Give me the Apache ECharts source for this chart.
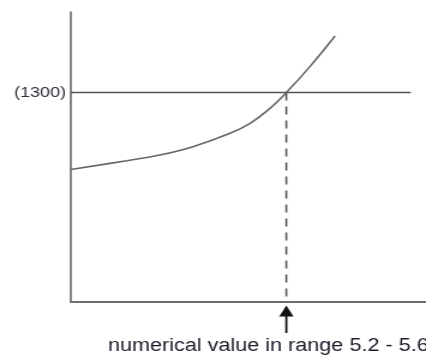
<!DOCTYPE html>
<html>
<head>
<meta charset="utf-8">
<script src="https://cdn.jsdelivr.net/npm/echarts@6/dist/echarts.min.js"></script>
<style>
  html, body { margin: 0; padding: 0; background: #fff; overflow: hidden; }
  /* the reference is a 355px-wide sketch stretched to 426px */
  #chart { width: 355px; height: 355px; transform: scaleX(1.2); transform-origin: 0 0; }
</style>
</head>
<body>
<div id="chart"></div>
<script>
// curve
const curveX = [0, 1.4, 2.23, 3.06, 3.99, 4.49, 4.99, 5.4, 5.99, 6.62]
const curveY = [822, 877, 912, 964, 1047, 1109, 1202, 1300, 1461, 1651]

// reference level and where the curve meets it
const refValue = 1300
const refLineX = [0, 8.52]
const crossX = 5.4

// arrow under the x axis (tail, head)
const arrowY = [-192, -56]

const caption = 'numerical value in range 5.2 - 5.6'

const chart = echarts.init(document.getElementById('chart'))

chart.setOption({
  animation: false,
  grid: { left: 59, right: 0, top: 12, bottom: 53, outerBoundsMode: 'none', containLabel: false },
  xAxis: {
    type: 'value',
    min: 0,
    max: 8.9,
    splitLine: { show: false },
    axisTick: { show: false },
    axisLine: { lineStyle: { color: '#6e6e6e', width: 2 } },
    axisLabel: {
      customValues: [crossX],
      formatter: () => caption,
      margin: 35,
      padding: [0, 30, 0, 0],
      color: '#1c1c2a',
      fontFamily: 'Liberation Sans',
      fontSize: 18
    }
  },
  yAxis: {
    type: 'value',
    min: 0,
    max: 1800,
    interval: refValue,
    splitLine: { show: false },
    axisTick: { show: false },
    axisLine: { show: true, lineStyle: { color: '#6e6e6e', width: 1.7 } },
    axisLabel: {
      formatter: (v) => (v === refValue ? '(' + v + ')' : ''),
      margin: 4,
      color: '#2f2f3a',
      fontFamily: 'Liberation Sans',
      fontSize: 15
    }
  },
  series: [
    {
      type: 'line',
      data: refLineX.map((x) => [x, refValue]),
      symbol: 'none',
      lineStyle: { color: '#555', width: 1.6 }
    },
    {
      type: 'line',
      data: curveX.map((x, i) => [x, curveY[i]]),
      smooth: 0.4,
      symbol: 'none',
      lineStyle: { color: '#666', width: 1.6 }
    },
    {
      type: 'line',
      data: [[crossX, refValue], [crossX, 0]],
      symbol: 'none',
      lineStyle: { color: '#555', width: 1.6, type: [8, 6] }
    },
    {
      type: 'line',
      clip: false,
      data: [
        { value: [crossX, arrowY[0]], symbol: 'none' },
        { value: [crossX, arrowY[1]], symbol: 'triangle', symbolSize: [12, 11] }
      ],
      lineStyle: { color: '#111', width: 1.8 },
      itemStyle: { color: '#111' }
    }
  ]
})
</script>
</body>
</html>
